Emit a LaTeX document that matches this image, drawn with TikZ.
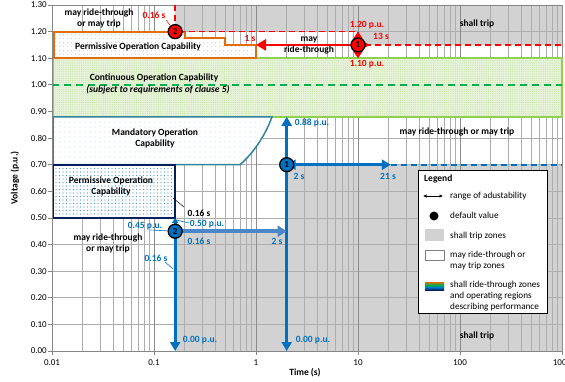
\documentclass[tikz,border=0pt]{standalone}
\usepackage{fontspec}
\setmainfont{Carlito}
\usetikzlibrary{arrows.meta,patterns.meta}
\definecolor{tripgray}{HTML}{D2D2D2}
\definecolor{gridgray}{HTML}{ADADAD}
\definecolor{decgray}{HTML}{8C8C8C}
\definecolor{axisgray}{HTML}{868686}
\definecolor{cgreen}{HTML}{92D050}
\definecolor{cgreenfill}{HTML}{E6F2D8}
\definecolor{dgreen}{HTML}{00B050}
\definecolor{corange}{HTML}{E46C0A}
\definecolor{cteal}{HTML}{31859C}
\definecolor{cnavy}{HTML}{002060}
\definecolor{cblue}{HTML}{0070C0}
\definecolor{cbluelt}{HTML}{4A86C8}
\definecolor{cred}{HTML}{FF0000}
\begin{document}
\begin{tikzpicture}[x=1pt,y=-1pt,
  declare function={tx(\p)=52+102*(log10(\p)+2); vy(\q)=351-266.15*\q;},
  txt/.style={font=\fontsize{9.5}{11}\selectfont\bfseries, inner sep=0pt, align=center},
  tick/.style={font=\fontsize{9}{10}\selectfont, inner sep=0pt},
  bluelbl/.style={txt, text=cblue},
  redlbl/.style={txt, text=cred},
  legtxt/.style={font=\fontsize{9.2}{11}\selectfont, inner sep=0pt, anchor=west, align=left},
  gridline/.style={gridgray, line width=0.6pt},
  decline/.style={decgray, line width=0.8pt},
  marker/.style={circle, draw=black, line width=1.3pt, inner sep=0pt, minimum size=14pt, font=\fontsize{9}{9}\selectfont\bfseries},
  bigblue/.style={cblue, line width=2.8pt},
  bigred/.style={cred, line width=2.8pt},
]
\useasboundingbox (0,0) rectangle (565,382);
\fill[white] (0,0) rectangle (565,382);

% shall trip zones
\fill[tripgray] ({tx(0.16)},5) -- ({tx(0.16)},{vy(1.2)}) -- ({tx(10)},{vy(1.2)}) -- ({tx(10)},{vy(1.15)}) -- (562,{vy(1.15)}) -- (562,5) -- cycle;
\fill[tripgray] ({tx(0.16)},351) -- ({tx(0.16)},{vy(0.45)}) -- ({tx(2)},{vy(0.45)}) -- ({tx(2)},{vy(0.7)}) -- (562,{vy(0.7)}) -- (562,351) -- cycle;

% grid
\foreach \i in {1,...,13} \draw[gridline] (52,{vy(\i/10)}) -- (562,{vy(\i/10)});
\foreach \d in {0,...,4}{
  \foreach \m in {2,...,9}{
    \draw[gridline] ({52+102*(\d+log10(\m))},5) -- ({52+102*(\d+log10(\m))},351);
  }
}
\foreach \d in {1,...,5} \draw[decline] ({52+102*\d},5) -- ({52+102*\d},351);

% continuous operation (green)
\draw[draw=cgreen, line width=1.6pt, preaction={fill=cgreenfill}, pattern={Dots[radius=0.35pt,distance=2.2pt]}, pattern color=cgreen!80] (53,{vy(1.1)}) rectangle (562,{vy(0.88)});
\draw[dgreen, line width=1.7pt, dash pattern=on 7pt off 5pt] (52,{vy(1)}) -- (562,{vy(1)});

% permissive operation (orange, over-voltage)
\draw[draw=corange, line width=1.8pt, preaction={fill=white}, pattern={Dots[radius=0.45pt,distance=4pt]}, pattern color=corange!70]
  (54,{vy(1.2)}) -- ({tx(0.2)},{vy(1.2)}) -- ({tx(0.2)},{vy(1.175)}) -- ({tx(0.5)},{vy(1.175)}) -- ({tx(0.5)},{vy(1.15)}) -- ({tx(1)},{vy(1.15)}) -- ({tx(1)},{vy(1.1)}) -- (54,{vy(1.1)}) -- cycle;

% mandatory operation (teal)
\draw[draw=cteal, line width=1.5pt, preaction={fill=white}, pattern={Dots[radius=0.45pt,distance=5pt]}, pattern color=cteal!80]
  (53,{vy(0.88)}) -- (272,{vy(0.88)}) .. controls (267,131) and (256,151) .. (240,{vy(0.7)}) -- (53,{vy(0.7)}) -- cycle;

% permissive operation (navy, under-voltage)
\draw[draw=cnavy, line width=1.8pt, preaction={fill=white}, pattern={Dots[radius=0.55pt,distance=3.5pt]}, pattern color=cblue!75]
  (53,{vy(0.7)}) rectangle ({tx(0.16)},{vy(0.5)});

% axes
\draw[axisgray, line width=0.8pt] (52,5) -- (562,5);
\draw[axisgray, line width=0.8pt] (52,5) -- (52,351) -- (562,351);
\foreach \i/\l in {0/0.00,1/0.10,2/0.20,3/0.30,4/0.40,5/0.50,6/0.60,7/0.70,8/0.80,9/0.90,10/1.00,11/1.10,12/1.20,13/1.30}{
  \draw[axisgray, line width=0.8pt] (48,{vy(\i/10)}) -- (52,{vy(\i/10)});
  \node[tick, anchor=east] (yl\i) at (47,{vy(\i/10)}) {\l};
}
\foreach \d/\l in {0/0.01,1/0.1,2/1,3/10,4/100,5/1000}{
  \draw[axisgray, line width=0.8pt] ({52+102*\d},351) -- ({52+102*\d},355);
  \node[tick] (xl\d) at ({52+102*\d},363) {\l};
}
\node[txt] (xtitle) at (305,373) {Time (s)};
\node[txt, rotate=90] (ytitle) at (15,178) {Voltage (p.u.)};

% dashed default curves
\draw[cred, line width=1.5pt, dash pattern=on 6pt off 4pt] ({tx(0.16)},5) -- ({tx(0.16)},{vy(1.2)}) -- ({tx(10)},{vy(1.2)}) -- ({tx(10)},{vy(1.15)}) -- (562,{vy(1.15)});
\draw[cblue, line width=1.8pt, dash pattern=on 6pt off 4pt] ({tx(21)},{vy(0.7)}) -- (562,{vy(0.7)});

% coordinates
\coordinate (r1t) at ({tx(10)},{vy(1.2)});
\coordinate (r1b) at ({tx(10)},{vy(1.1)});
\coordinate (r1l) at ({tx(1)},{vy(1.15)});
\coordinate (r1r) at ({tx(13)},{vy(1.15)});
\coordinate (b1t) at ({tx(2)},{vy(0.88)});
\coordinate (b1b) at ({tx(2)},351);
\coordinate (b1l) at ({tx(2)},{vy(0.7)});
\coordinate (b1r) at ({tx(21)},{vy(0.7)});
\coordinate (b2t) at ({tx(0.16)},{vy(0.5)});
\coordinate (b2b) at ({tx(0.16)},351);
\coordinate (b2l) at ({tx(0.16)},{vy(0.45)});
\coordinate (b2r) at ({tx(2)},{vy(0.45)});

% arrows
\draw[bigred, {Triangle[length=7pt,width=9pt]}-{Triangle[length=7pt,width=9pt]}] (r1t) -- (r1b);
\draw[bigred, {Triangle[length=10pt,width=11pt]}-{Triangle[length=10pt,width=11pt]}] (r1l) -- (r1r);
\draw[bigblue, {Triangle[length=9pt,width=10pt]}-{Triangle[length=9pt,width=10pt]}] (b1t) -- (b1b);
\draw[bigblue, {Triangle[length=9pt,width=10pt]}-{Triangle[length=9pt,width=10pt]}] (b1l) -- (b1r);
\draw[bigblue, {Triangle[length=5pt,width=6pt]}-{Triangle[length=9pt,width=10pt]}] (b2t) -- (b2b);
\draw[cbluelt, line width=4pt, -{Triangle[length=9pt,width=11pt]}] (b2l) -- (b2r);

% markers
\node[marker, fill=cred] (m1r) at ({tx(10)},{vy(1.15)}) {1};
\node[marker, fill=cred] (m2r) at ({tx(0.16)},{vy(1.2)}) {2};
\node[marker, fill=cblue] (m1b) at ({tx(2)},{vy(0.7)}) {1};
\node[marker, fill=cblue] (m2b) at ({tx(0.16)},{vy(0.45)}) {2};

% region texts
\node[txt] (t1) at (99,18) {may ride-through\\or may trip};
\node[txt] (t2) at (138,47) {Permissive Operation Capability};
\node[txt] (t3) at (154,78) {Continuous Operation Capability};
\node[txt, font=\fontsize{9.5}{11}\selectfont\bfseries\itshape] (t4) at (158,90) {(subject to requirements of clause 5)};
\node[txt] (t5) at (155,138) {Mandatory Operation\\Capability};
\node[txt] (t6) at (111,186) {Permissive Operation\\Capability};
\node[txt] (t7) at (108,243) {may ride-through\\or may trip};
\node[txt] (t8) at (309,45) {may\\ride-through};
\node[txt] (t9) at (477,24) {shall trip};
\node[txt] (t10) at (457,132) {may ride-through or may trip};
\node[txt] (t11) at (477,336) {shall trip};

% red labels
\node[redlbl] (l016r) at (154,15) {0.16 s};
\draw[cred, line width=0.5pt] (166,20) -- (m2r);
\node[redlbl] (l1s) at (250,38) {1 s};
\node[redlbl] (l120) at (367,25) {1.20 p.u.};
\node[redlbl] (l13s) at (381,36) {13 s};
\node[redlbl] (l110) at (367,64) {1.10 p.u.};

% blue labels
\node[bluelbl] (l088) at (312,123) {0.88 p.u.};
\node[bluelbl] (l2sa) at (299,176) {2 s};
\node[bluelbl] (l21s) at (388,176) {21 s};
\node[bluelbl] (l000a) at (313,340) {0.00 p.u.};
\node[bluelbl] (l000b) at (200,340) {0.00 p.u.};
\node[bluelbl] (l016a) at (199,241) {0.16 s};
\node[bluelbl] (l2sb) at (277,241) {2 s};
\node[bluelbl] (l045) at (145,226) {0.45 p.u.};
\draw[cblue, line width=0.6pt] (150,230) -- (m2b);
\node[bluelbl] (l050) at (207,224) {0.50 p.u.};
\draw[cblue, line width=0.6pt] (189,223) -- (176,220);
\node[bluelbl] (l016b) at (156,258) {0.16 s};
\draw[cblue, line width=0.6pt] (165,262) -- (173,269);
\node[txt] (l016k) at (199,213) {0.16 s};
\draw[black, line width=0.5pt] (184,207) -- (173,198);

% legend
\draw[black, line width=0.6pt, fill=white] (418,170) rectangle (547,313);
\node[txt, anchor=west] (lg) at (424,179) {Legend};
\draw[black, line width=0.7pt, {Latex[length=3.5pt,width=3.5pt]}-{Latex[length=3.5pt,width=3.5pt]}] (423,196) -- (443,196);
\node[legtxt] (lg1) at (450,196) {range of adustability};
\fill[black] (434,216) circle (4.5pt);
\node[legtxt] (lg2) at (450,215) {default value};
\fill[tripgray] (425,229) rectangle (444,241);
\node[legtxt] (lg3) at (450,236) {shall trip zones};
\draw[gray, line width=0.5pt, fill=white] (425,250) rectangle (444,260);
\node[legtxt] (lg4) at (450,260.5) {may ride-through or\\may trip zones};
\shade[top color=corange, bottom color=dgreen] (425,282) rectangle (444,285);
\shade[top color=dgreen, bottom color=cblue] (425,285) rectangle (444,287.5);
\shade[top color=cblue, bottom color=cnavy] (425,287.5) rectangle (444,290);
\node[legtxt] (lg5) at (450,296) {shall ride-through zones\\and operating regions\\describing performance};
\end{tikzpicture}
\end{document}
